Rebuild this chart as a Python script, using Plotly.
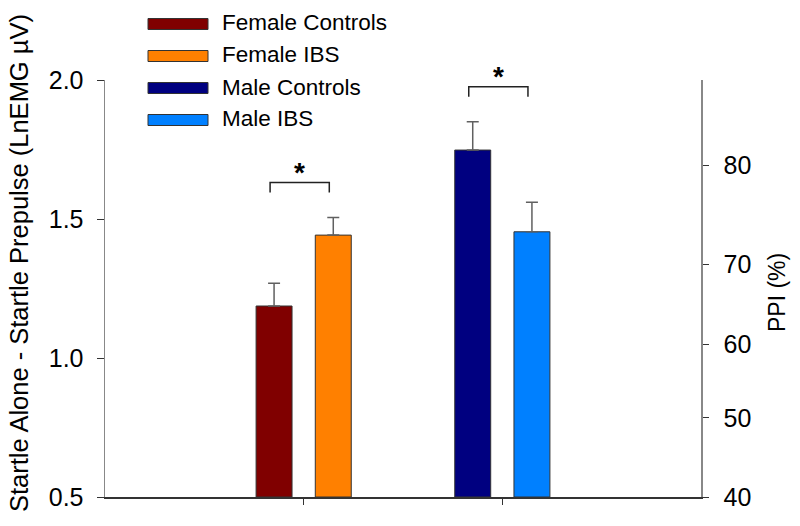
import plotly.graph_objects as go

# ---- data ----
groups = ["Female", "Male"]
series_names = ["Female Controls", "Female IBS", "Male Controls", "Male IBS"]
series_group = [0, 0, 1, 1]
series_values = [1.187, 1.442, 1.748, 1.454]
series_errors = [0.082, 0.063, 0.102, 0.106]
series_colors = ["#800000", "#FF8000", "#000080", "#0080FF"]
left_ticks = [0.5, 1.0, 1.5, 2.0]
right_tick_labels = ["40", "50", "60", "70", "80"]
right_tick_at = [0.5, 0.785, 1.05, 1.338, 1.692]
sig_pairs = [(0, 1), (2, 3)]

# ---- layout constants ----
W, H = 800, 526
ML, MR, MT, MB = 105, 99, 80, 29
PW, PH = W - ML - MR, H - MT - MB
FONT = "Liberation Sans, Arial, sans-serif"
bar_w = 0.181
bar_off = 0.149
YR = [0.5, 2.0]

fig = go.Figure()
xs = []
for i, name in enumerate(series_names):
    side = -1 if i % 2 == 0 else 1
    xc = series_group[i] + side * bar_off
    xs.append(xc)
    fig.add_trace(go.Bar(
        x=[series_group[i]], y=[series_values[i] - YR[0]], base=[YR[0]],
        name=name, width=[bar_w], offset=side * bar_off - bar_w / 2,
        marker=dict(color=series_colors[i], line=dict(color="#333333", width=1)),
        error_y=dict(type="data", array=[series_errors[i]], arrayminus=[0],
                     symmetric=False, color="#606060", thickness=1.5, width=6),
        showlegend=False,
    ))

# invisible trace to activate right axis
fig.add_trace(go.Scatter(x=[0], y=[1], yaxis="y2", mode="markers",
                         marker=dict(opacity=0), showlegend=False, hoverinfo="skip"))

shapes = []
annotations = []
# significance brackets
for a, b in sig_pairs:
    top = max(series_values[a] + series_errors[a], series_values[b] + series_errors[b])
    y0 = top + 0.09
    y1 = y0 + 0.036
    x0, x1 = xs[a] - 0.02, xs[b] - 0.02
    shapes.append(dict(type="path", xref="x", yref="y",
                       path=f"M {x0} {y0} L {x0} {y1} L {x1} {y1} L {x1} {y0}",
                       line=dict(color="#222222", width=1.5)))
    annotations.append(dict(x=(x0 + x1) / 2, y=y1, xref="x", yref="y", text="<b>*</b>",
                            showarrow=False, yanchor="bottom", yshift=-7,
                            font=dict(size=28, color="black", family=FONT)))

# manual legend
def px_to_paper(px, py):
    return (px - ML) / PW, (H - MB - py) / PH

row_y = [24, 56, 88, 120]
for i, name in enumerate(series_names):
    xa, ya = px_to_paper(148, row_y[i] - 5.5)
    xb, yb = px_to_paper(208, row_y[i] + 5.5)
    shapes.append(dict(type="rect", xref="paper", yref="paper", x0=xa, x1=xb, y0=yb, y1=ya,
                       fillcolor=series_colors[i], line=dict(color="#333333", width=1)))
    tx, ty = px_to_paper(220, row_y[i] - 1)
    annotations.append(dict(x=tx, y=ty, xref="paper", yref="paper", text=name,
                            showarrow=False, xanchor="left", yanchor="middle",
                            font=dict(size=22.5, color="black", family=FONT)))

# axis titles
lx, ly = px_to_paper(19, 263)
annotations.append(dict(x=lx, y=ly, xref="paper", yref="paper",
                        text="Startle Alone - Startle Prepulse (LnEMG µV)",
                        textangle=-90, showarrow=False, xanchor="center", yanchor="middle",
                        font=dict(size=25.5, color="black", family=FONT)))
rx, ry = px_to_paper(777, 293)
annotations.append(dict(x=rx, y=ry, xref="paper", yref="paper", text="PPI (%)",
                        textangle=-90, showarrow=False, xanchor="center", yanchor="middle",
                        font=dict(size=23, color="black", family=FONT)))

fig.update_layout(
    width=W, height=H,
    margin=dict(l=ML, r=MR, t=MT, b=MB, pad=0),
    paper_bgcolor="white", plot_bgcolor="white",
    barmode="overlay",
    font=dict(family=FONT, size=22, color="black"),
    xaxis=dict(range=[-1, 2], tickvals=[0, 1], ticktext=["", ""], ticks="outside",
               ticklen=6, tickcolor="#333333", showline=True, linecolor="#333333",
               linewidth=1.5, showgrid=False, zeroline=False, fixedrange=True),
    yaxis=dict(range=YR, tickvals=left_ticks, ticktext=[f"{v:.1f}" for v in left_ticks],
               ticks="outside", ticklen=7, tickcolor="#333333", showline=True,
               linecolor="#888888", linewidth=1.5, showgrid=False, zeroline=False,
               tickfont=dict(size=25), ticklabelstandoff=8),
    yaxis2=dict(range=YR, overlaying="y", side="right", tickvals=right_tick_at,
                ticktext=right_tick_labels, ticks="outside", ticklen=6, tickcolor="#333333",
                showline=True, linecolor="#888888", linewidth=1.5, showgrid=False,
                zeroline=False, tickfont=dict(size=25), ticklabelstandoff=10),
    shapes=shapes, annotations=annotations,
)

fig.write_html("out.html", config={"displayModeBar": False, "staticPlot": True},
               post_script="document.body.style.margin='0px';document.body.style.overflow='hidden';")
